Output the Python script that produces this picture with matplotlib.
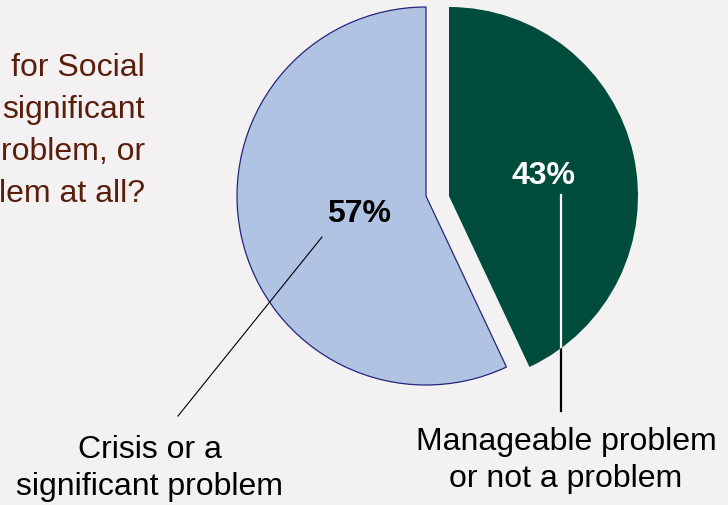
import matplotlib.pyplot as plt

shares = [57, 43]
slice_labels = ["Crisis or a\nsignificant problem", "Manageable problem\nor not a problem"]
colors = ["#b0c3e3", "#004c3c"]
# the question runs off the left edge of the picture; only these tails show
question = ["for Social", "significant", "roblem, or", "lem at all?"]

plt.rcParams['font.family'] = ['Liberation Sans', 'DejaVu Sans']
bg = "#f4f1f2"
H = 505

fig = plt.figure(figsize=(7.28, 5.05), dpi=100, facecolor=bg)
ax = fig.add_axes([0, 0, 1, 1])

wedges, _ = ax.pie(shares, colors=colors, startangle=90, counterclock=True,
                   radius=189, center=(426, H - 196), frame=True)
wedges[0].set_edgecolor("#25257a")
wedges[0].set_linewidth(0.9)
wedges[1].set_edgecolor("none")
# the green slice is pulled out sideways
wedges[1].set_center((449, H - 196))

ax.set_xlim(0, 728)
ax.set_ylim(0, H)
ax.axis('off')

# percentages
ax.text(359, H - 214, f"{shares[0]}%", fontsize=23, fontweight='bold',
        color='black', ha='center', va='center')
ax.text(543, H - 176, f"{shares[1]}%", fontsize=23, fontweight='bold',
        color='white', ha='center', va='center')

# leader lines
ax.plot([322, 178], [H - 237, H - 416], color='black', lw=0.8)
ax.plot([561, 561], [H - 195, H - 411], color='black', lw=1.6, zorder=0.5)
inner, = ax.plot([561, 561], [H - 195, H - 411], color='white', lw=1.6, zorder=3)
inner.set_clip_path(wedges[1])

# slice labels
ax.text(150, H - 495, slice_labels[0], fontsize=23, ha='center', va='baseline',
        linespacing=1.3, color='black')
ax.text(566, H - 487, slice_labels[1], fontsize=23, ha='center', va='baseline',
        linespacing=1.3, color='black')

# question text
for i, line in enumerate(question):
    ax.text(145, H - (68 + 42 * i), line, fontsize=23, ha='right', va='center',
            color='#5a1e0c')

fig.savefig("out.png", dpi=100, facecolor=bg)
